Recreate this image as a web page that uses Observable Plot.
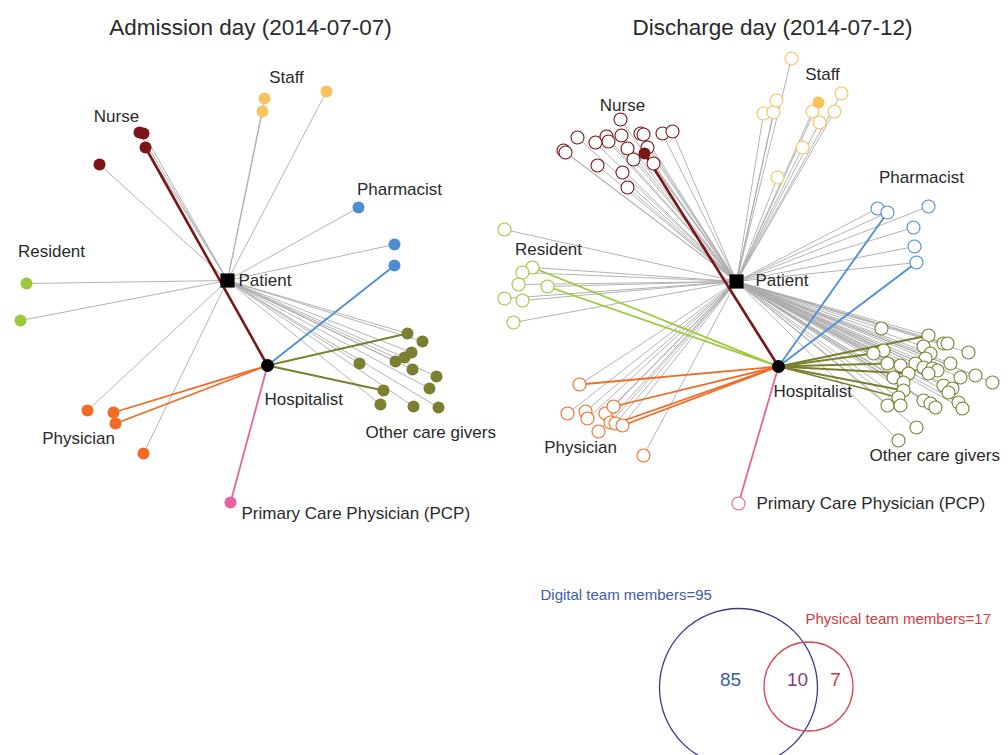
<!DOCTYPE html>
<html><head><meta charset="utf-8">
<script src="https://cdn.jsdelivr.net/npm/d3@7"></script>
<script src="https://cdn.jsdelivr.net/npm/@observablehq/plot@0.6"></script>
<style>body{margin:0;background:#fff;font-family:"Liberation Sans",Arial,sans-serif;}</style>
</head><body><div id="chart"></div>
<script>
// Roles and colours
const roles = ["Nurse","Staff","Pharmacist","Resident","Physician","PCP","Other"];
const roleColors = ["#7a1518","#f8c35f","#4d8ed3","#9dca3c","#f26b24","#e9629b","#7c7f2f"];

// Hub nodes (network layout positions)
const hubs = [
  {panel:"A", name:"Patient", x:227, y:280},
  {panel:"A", name:"Hospitalist", x:267, y:365},
  {panel:"D", name:"Patient", x:736, y:281},
  {panel:"D", name:"Hospitalist", x:778, y:366}
];

// Admission day nodes: [role, x, y, link] (P = patient, H = hospitalist)
const admissionNodes = [
  ["Nurse",139,132,"P"],["Nurse",143,133,"P"],["Nurse",145,147,"PH"],["Nurse",99,164,"P"],
  ["Staff",264,98,"P"],["Staff",262,111,"P"],["Staff",326,91,"P"],
  ["Pharmacist",358,207,"P"],["Pharmacist",394,244,"P"],["Pharmacist",394,265,"H"],
  ["Resident",26,283,"P"],["Resident",20,320,"P"],
  ["Physician",87,410,"P"],["Physician",113,412,"H"],["Physician",115,423,"H"],["Physician",143,453,"P"],
  ["PCP",230,502,"H"],
  ["Other",407,333,"PH"],["Other",422,341,"P"],["Other",411,352,"P"],["Other",404,357,"P"],
  ["Other",395,361,"P"],["Other",359,363,"P"],["Other",412,369,"P"],["Other",436,376,"P"],
  ["Other",429,388,"P"],["Other",383,390,"H"],["Other",380,404,"P"],["Other",413,406,"P"],["Other",438,407,"P"]
];

// Discharge day nodes: [role, x, y, link, physical]
const dischargeNodes = [
  ["Nurse",620,119,"P",0],["Nurse",577,137,"P",0],["Nurse",595,142,"P",0],["Nurse",606,136,"P",0],
  ["Nurse",608,141,"P",0],["Nurse",621,135,"P",0],["Nurse",640,133,"P",0],["Nurse",643,134,"P",0],
  ["Nurse",662,133,"P",0],["Nurse",672,131,"P",0],["Nurse",563,150,"P",0],["Nurse",565,152,"P",0],
  ["Nurse",627,148,"P",0],["Nurse",647,147,"P",0],["Nurse",633,159,"P",0],["Nurse",653,163,"P",0],
  ["Nurse",597,165,"P",0],["Nurse",622,172,"P",0],["Nurse",627,187,"P",0],["Nurse",644,153,"PH",1],
  ["Staff",791,58,"P",0],["Staff",776,100,"P",0],["Staff",763,113,"P",0],["Staff",773,112,"P",0],
  ["Staff",818,102,"P",1],["Staff",841,93,"P",0],["Staff",812,111,"P",0],["Staff",834,111,"P",0],
  ["Staff",819,122,"P",0],["Staff",802,147,"P",0],["Staff",777,177,"P",0],
  ["Pharmacist",877,208,"P",0],["Pharmacist",887,212,"PH",0],["Pharmacist",928,206,"P",0],
  ["Pharmacist",913,227,"P",0],["Pharmacist",914,246,"P",0],["Pharmacist",916,262,"PH",0],
  ["Resident",504,229,"P",0],["Resident",532,267,"PH",0],["Resident",522,272,"P",0],["Resident",518,284,"P",0],
  ["Resident",547,286,"PH",0],["Resident",504,298,"P",0],["Resident",522,300,"P",0],["Resident",513,322,"P",0],
  ["Physician",579,384,"PH",0],["Physician",567,413,"P",0],["Physician",585,411,"P",0],["Physician",587,418,"P",0],
  ["Physician",605,413,"P",0],["Physician",613,406,"PH",0],["Physician",610,422,"P",0],["Physician",615,423,"PH",0],
  ["Physician",622,425,"PH",0],["Physician",598,431,"P",0],["Physician",643,455,"P",0],
  ["PCP",738,503,"H",0],
  ["Other",881,328,"P",0],["Other",928,335,"PH",0],["Other",923,346,"P",0],["Other",943,343,"P",0],
  ["Other",947,343,"P",0],["Other",968,352,"P",0],["Other",883,350,"P",0],["Other",873,353,"PH",0],
  ["Other",930,353,"P",0],["Other",925,358,"P",0],["Other",950,363,"P",0],["Other",887,363,"PH",0],
  ["Other",900,365,"P",0],["Other",915,363,"P",0],["Other",923,367,"P",0],["Other",932,368,"P",0],
  ["Other",937,370,"P",0],["Other",928,373,"P",0],["Other",908,373,"PH",0],["Other",893,377,"P",0],
  ["Other",903,382,"P",0],["Other",960,377,"P",0],["Other",975,375,"P",0],["Other",992,382,"P",0],
  ["Other",943,385,"P",0],["Other",952,388,"P",0],["Other",948,392,"P",0],["Other",903,390,"PH",0],
  ["Other",898,397,"PH",0],["Other",923,400,"P",0],["Other",930,403,"P",0],["Other",935,407,"P",0],
  ["Other",958,402,"P",0],["Other",962,408,"P",0],["Other",887,405,"P",0],["Other",900,405,"P",0],
  ["Other",916,427,"P",0],["Other",898,440,"P",0]
];

// Text labels
const panelTitles = [["Admission day (2014-07-07)",250,27],["Discharge day (2014-07-12)",772,27]];
const centeredLabels = [
  ["Nurse",116,116],["Staff",286,77],["Pharmacist",399,189],["Resident",51,251],["Physician",78,438],
  ["Nurse",622,105],["Staff",822,74],["Pharmacist",921,177],["Resident",548,249],["Physician",580,447]
];
const leftAlignedLabels = [
  ["Patient",238,280],["Hospitalist",264,399],["Other care givers",365,432],["Primary Care Physician (PCP)",241,513],
  ["Patient",755,280],["Hospitalist",773,391],["Other care givers",869,455],["Primary Care Physician (PCP)",756,503]
];

// Venn
const vennSets = ["Digital team members=95","Physical team members=17"];
const vennCounts = [85,10,7];

// ---- build tables ----
const hub = (p,n) => hubs.find(h => h.panel===p && h.name===n);
function build(nodes, panel, withPhys){
  const P = hub(panel,"Patient"), H = hub(panel,"Hospitalist");
  const pts = nodes.map(d => ({role:d[0], x:d[1], y:d[2], link:d[3], phys: withPhys ? d[4]===1 : true}));
  const gray = pts.filter(d=>d.link.includes("P")).map(d=>({x1:P.x,y1:P.y,x2:d.x,y2:d.y}));
  const col = pts.filter(d=>d.link.includes("H")).map(d=>({x1:H.x,y1:H.y,x2:d.x,y2:d.y,role:d.role}));
  return {pts, gray, col};
}
const A = build(admissionNodes,"A",false);
const D = build(dischargeNodes,"D",true);
const allGray = [...A.gray, ...D.gray];
const allCol = [...A.col, ...D.col];
const filled = [...A.pts, ...D.pts.filter(d=>d.phys)];
const open = D.pts.filter(d=>!d.phys);

const font = "Liberation Sans, Arial, sans-serif";
const labelColor = "#2a2a2a";
const chart = Plot.plot({
  width:1008, height:755, margin:0,
  x:{domain:[0,1008], range:[0,1008], axis:null},
  y:{domain:[0,755], range:[0,755], axis:null},
  color:{domain:roles, range:roleColors},
  style:{fontFamily:font, background:"#fff"},
  marks:[
    Plot.link(allGray,{x1:"x1",y1:"y1",x2:"x2",y2:"y2",stroke:"#ababab",strokeWidth:0.9}),
    Plot.link(allCol,{x1:"x1",y1:"y1",x2:"x2",y2:"y2",stroke:"role",strokeWidth:d=>d.role==="Nurse"?2.6:1.8}),
    Plot.dot(open,{x:"x",y:"y",r:6.5,stroke:"role",fill:"white",strokeWidth:1.1}),
    Plot.dot(filled,{x:"x",y:"y",r:6,fill:"role",stroke:"none"}),
    Plot.dot(hubs.filter(h=>h.name==="Patient"),{x:"x",y:"y",symbol:"square",r:8,fill:"black"}),
    Plot.dot(hubs.filter(h=>h.name==="Hospitalist"),{x:"x",y:"y",r:6.5,fill:"black"}),
    Plot.text(panelTitles,{x:d=>d[1],y:d=>d[2],text:d=>d[0],fontSize:22.5,fill:labelColor}),
    Plot.text(centeredLabels,{x:d=>d[1],y:d=>d[2],text:d=>d[0],textAnchor:"middle",fontSize:17,fill:labelColor}),
    Plot.text(leftAlignedLabels,{x:d=>d[1],y:d=>d[2],text:d=>d[0],textAnchor:"start",fontSize:17,fill:labelColor}),
    // Venn
    Plot.dot([[738,687]],{x:d=>d[0],y:d=>d[1],r:79,stroke:"#3d3b8c",fill:"none",strokeWidth:1.3}),
    Plot.dot([[808,686]],{x:d=>d[0],y:d=>d[1],r:44.5,stroke:"#d94a55",fill:"none",strokeWidth:1.3}),
    Plot.text([vennSets[0]],{x:540,y:595,text:d=>d,textAnchor:"start",fontSize:15,fill:"#3d5ca8"}),
    Plot.text([vennSets[1]],{x:805,y:619,text:d=>d,textAnchor:"start",fontSize:15,fill:"#d43a3f"}),
    Plot.text([vennCounts[0]],{x:730,y:679,text:d=>String(d),fontSize:19,fill:"#3d5ca8"}),
    Plot.text([vennCounts[1]],{x:797,y:679,text:d=>String(d),fontSize:19,fill:"#8a3a7a"}),
    Plot.text([vennCounts[2]],{x:835,y:679,text:d=>String(d),fontSize:19,fill:"#d43a3f"})
  ]
});
document.getElementById("chart").appendChild(chart);
</script>
</body></html>
